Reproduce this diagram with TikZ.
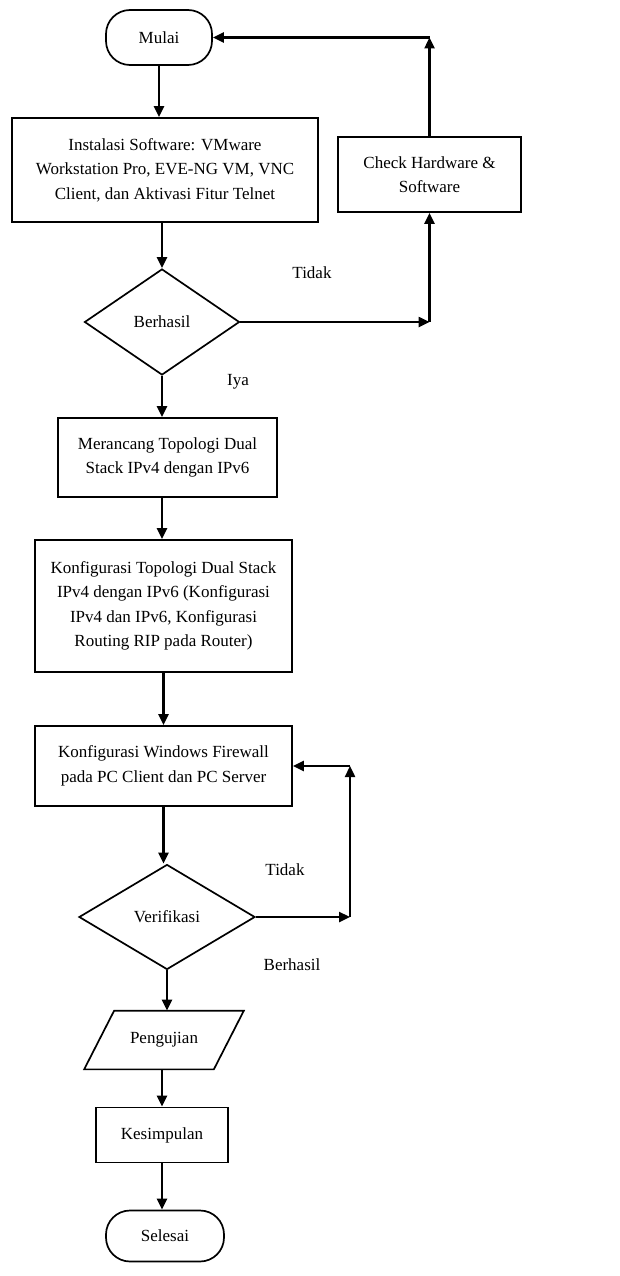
\documentclass[tikz,border=0pt]{standalone}
\usepackage{fontspec}
\setmainfont{Liberation Serif}
\usetikzlibrary{shapes.geometric,arrows.meta}

\tikzset{
  box/.style={draw, line width=1.7pt, align=center, inner sep=0pt},
  term/.style={box, rounded corners=24pt},
  cond/.style={draw, line width=1.7pt, diamond, aspect=1.5, inner sep=0pt},
  arr/.style={-{Triangle[length=11pt,width=10pt]}, line width=2.4pt},
}

\begin{document}
\begin{tikzpicture}[x=1pt, y=-1pt, font=\fontsize{17}{24.5}\selectfont]
    \useasboundingbox (0,0) rectangle (619,1276);

    % langkah utama
    \node[term, minimum width=106, minimum height=55] (mulai) at (159,37.5) {Mulai};
    \node[box, minimum width=306, minimum height=104] (instal) at (165,170)
        {Instalasi Software: VMware\\Workstation Pro, EVE-NG VM, VNC\\Client, dan Aktivasi Fitur Telnet};
    \node[box, minimum width=183, minimum height=75] (cek) at (429.5,174.5)
        {Check Hardware \&\\Software};
    \node[cond, minimum width=155, minimum height=106] (berhasil) at (162,322) {Berhasil};
    \node[box, minimum width=219, minimum height=79] (rancang) at (167.5,457.5)
        {Merancang Topologi Dual\\Stack IPv4 dengan IPv6};
    \node[box, minimum width=257, minimum height=132] (konfig) at (163.5,606)
        {Konfigurasi Topologi Dual Stack\\IPv4 dengan IPv6 (Konfigurasi\\IPv4 dan IPv6, Konfigurasi\\Routing RIP pada Router)};
    \node[box, minimum width=257, minimum height=80] (firewall) at (163.5,766)
        {Konfigurasi Windows Firewall\\pada PC Client dan PC Server};
    \node[cond, minimum width=176, minimum height=105] (verif) at (167,917) {Verifikasi};
    \node[box, draw=none, minimum width=128, minimum height=57] (uji) at (164,1040) {Pengujian};
    \draw[line width=1.7pt] ([xshift=15pt]uji.north west) -- ([xshift=15pt]uji.north east)
        -- ([xshift=-15pt]uji.south east) -- ([xshift=-15pt]uji.south west) -- cycle;
    \node[box, minimum width=132, minimum height=55] (simpul) at (162,1135) {Kesimpulan};
    \node[term, minimum width=118, minimum height=51] (selesai) at (165,1236) {Selesai};

    % label cabang
    \node (tidak1) at (312,273) {Tidak};
    \node (iya) at (238,382) {Iya};
    \node (tidak2) at (285,870) {Tidak};
    \node (ok2) at (292,965) {Berhasil};

    % alur ke bawah
    \draw[arr] (mulai.south) -- (mulai.south |- instal.north);
    \draw[arr] (berhasil.north |- instal.south) -- (berhasil.north);
    \draw[arr] (berhasil.south) -- (berhasil.south |- rancang.north);
    \draw[arr] (rancang.south -| berhasil.south) -- (berhasil.south |- konfig.north);
    \draw[arr] (konfig.south) -- (konfig.south |- firewall.north);
    \draw[arr] (firewall.south) -- (firewall.south |- verif.north);
    \draw[arr] (verif.south) -- (verif.south |- uji.north);
    \draw[arr] (uji.south -| simpul) -- (simpul.north);
    \draw[arr] (simpul.south) -- (simpul.south |- selesai.north);

    % loop tidak berhasil
    \coordinate (c1) at (cek |- berhasil);
    \coordinate (c2) at (cek |- mulai.east);
    \draw[arr] (berhasil.east) -- (c1);
    \draw[arr] (c1) -- (cek.south);
    \draw[arr] (cek.north) -- (c2);
    \draw[arr] (c2) -- (mulai.east);

    \coordinate (v1) at (350,917);
    \coordinate (v2) at (v1 |- firewall.east);
    \draw[arr] (verif.east) -- (v1);
    \draw[arr] (v1) -- (v2);
    \draw[arr] (v2) -- (firewall.east);
\end{tikzpicture}
\end{document}
